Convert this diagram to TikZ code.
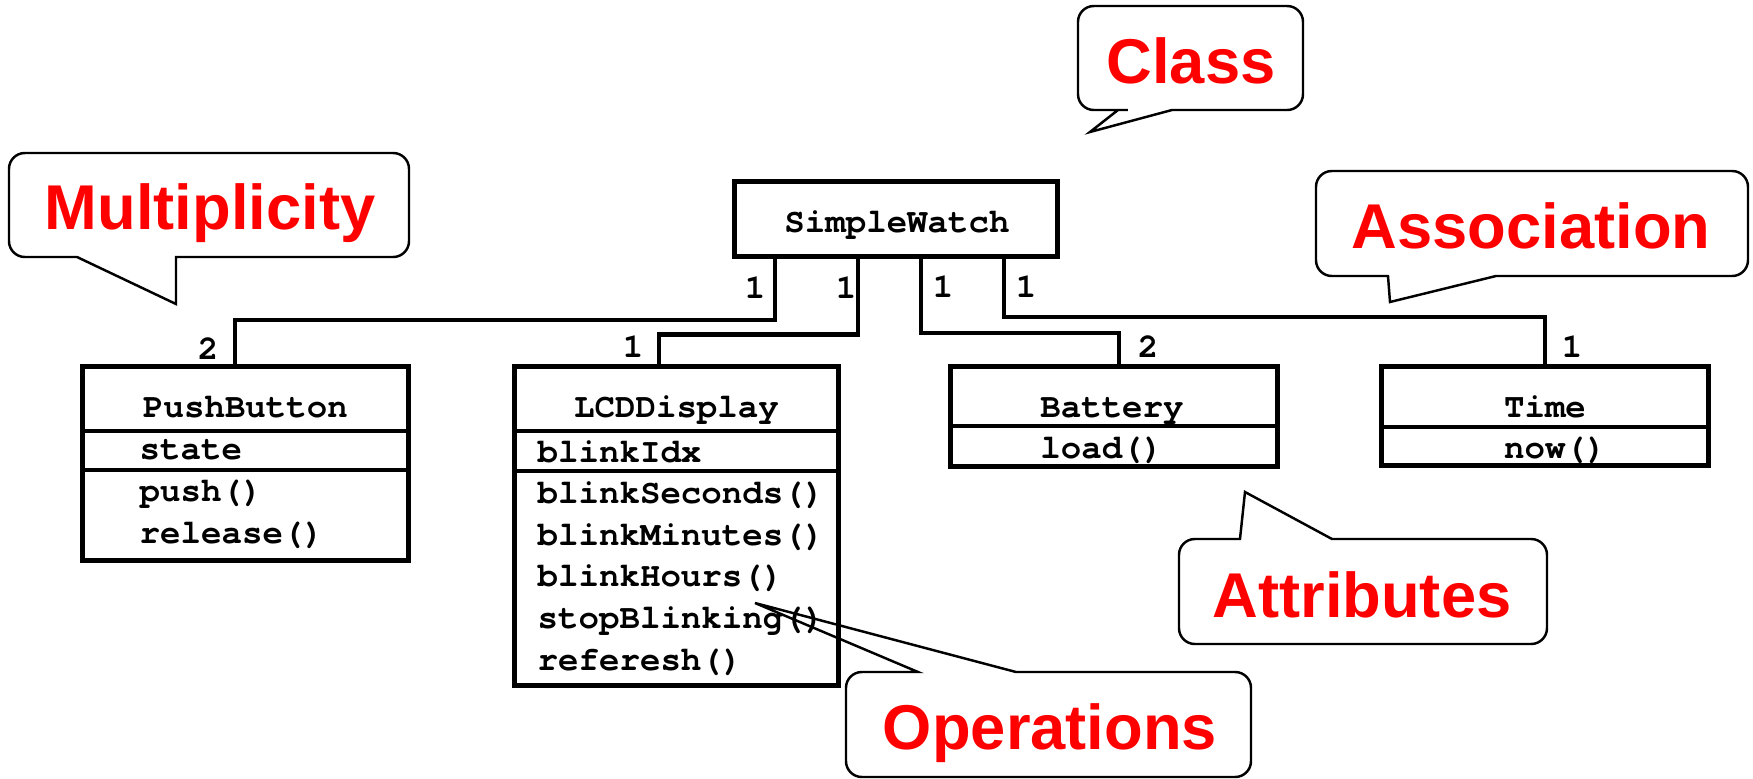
\documentclass[tikz,border=0pt]{standalone}
\usepackage{fontspec}
\setmainfont{Liberation Sans}
\setmonofont{TeX Gyre Cursor}
\usetikzlibrary{calc,positioning}
\tikzstyle{classbox} = [rectangle, draw=black, line width=1.4pt, inner sep=0pt]
\tikzstyle{classline} = [draw=black, line width=1.4pt]
\tikzstyle{classname} = [anchor=base, inner sep=0pt, font=\ttfamily\bfseries\fontsize{9.7pt}{11pt}\selectfont]
\tikzstyle{member} = [anchor=base west, inner sep=0pt, font=\ttfamily\bfseries\fontsize{9.7pt}{11pt}\selectfont]
\tikzstyle{mult} = [anchor=base, inner sep=0pt, font=\ttfamily\bfseries\fontsize{9.7pt}{11pt}\selectfont]
\tikzstyle{assoc} = [draw=black, line width=1.4pt]
\tikzstyle{note} = [anchor=base, inner sep=0pt, text=red, font=\bfseries\fontsize{18pt}{18pt}\selectfont]
\tikzstyle{bubble} = [draw=black, line width=0.7pt]

\begin{document}
\begin{tikzpicture}[x=0.01cm, y=-0.01cm]
\useasboundingbox (0,0) rectangle (1753,778);
%classes
\node[classbox, minimum width=3.23cm, minimum height=0.75cm] (sw) at (896,219) {};
\node[classname] (swname) at (897,232) {SimpleWatch};

%PushButton
\node[classbox, minimum width=3.26cm, minimum height=1.935cm] (pb) at (245.5,463.25) {};
\draw[classline] (pb.west |- 0,431) -- (pb.east |- 0,431);
\draw[classline] (pb.west |- 0,470) -- (pb.east |- 0,470);
\node[classname] (pbname) at (245.5,417) {PushButton};
\node[member] (pbstate) at (139,459) {state};
\node[member] (pbpush) at (139,501) {push()};
\node[member] (pbrelease) at (139,543) {release()};

%LCDDisplay
\node[classbox, minimum width=3.24cm, minimum height=3.19cm] (lcd) at (676.5,526) {};
\draw[classline] (lcd.west |- 0,431) -- (lcd.east |- 0,431);
\draw[classline] (lcd.west |- 0,471) -- (lcd.east |- 0,471);
\node[classname] (lcdname) at (676.5,417) {LCDDisplay};
\node[member] (lcdidx) at (537,462) {blinkIdx};
\node[member] (lcdsec) at (537,503) {blinkSeconds()};
\node[member] (lcdmin) at (537,545) {blinkMinutes()};
\node[member] (lcdhour) at (537,586.5) {blinkHours()};
\node[member] (lcdstop) at (537,628) {stopBlinking()};
\node[member] (lcdref) at (537,670) {referesh()};

%Battery
\node[classbox, minimum width=3.27cm, minimum height=1.00cm] (bat) at (1114,416.5) {};
\draw[classline] (bat.west |- 0,426) -- (bat.east |- 0,426);
\node[classname] (batname) at (1112,417) {Battery};
\node[member] (batload) at ($(batname.base west)+(0,41)$) {load()};

%Time
\node[classbox, minimum width=3.27cm, minimum height=0.99cm] (time) at (1545,416) {};
\draw[classline] (time.west |- 0,427) -- (time.east |- 0,427);
\node[classname] (timename) at (1545,417) {Time};
\node[member] (timenow) at ($(timename.base west)+(0,41)$) {now()};

%associations
\draw[assoc] ($(sw.south)+(-121,0)$) |- ($(pb.north)+(-10.5,-44)$) -- ($(pb.north)+(-10.5,0)$);
\draw[assoc] ($(sw.south)+(-38,0)$) |- ($(lcd.north)+(-17.5,-29)$) -- ($(lcd.north)+(-17.5,0)$);
\draw[assoc] ($(sw.south)+(25,0)$) |- ($(bat.north)+(5,-31)$) -- ($(bat.north)+(5,0)$);
\draw[assoc] ($(sw.south)+(108,0)$) |- ($(time.north)+(0,-47)$) -- ($(time.north)+(0,0)$);

%multiplicities
\node[mult] (m1) at (755,298) {1};
\node[mult] (m2) at (846,298) {1};
\node[mult] (m3) at (943,297) {1};
\node[mult] (m4) at (1026,297) {1};
\node[mult] (mpb) at (208,359) {2};
\node[mult] (mlcd) at (633,357) {1};
\node[mult] (mbat) at (1148,357) {2};
\node[mult] (mtime) at (1572,357) {1};

%callouts
\draw[bubble] (209,153) [rounded corners=4.5pt] -- (9,153) -- (9,257) -- (45,257) [sharp corners] -- (77,257) -- (176,304) -- (176,257) -- (290,257) [rounded corners=4.5pt] -- (409,257) -- (409,153) -- cycle;
\node[note] (multnote) at (210,229) {Multiplicity};

\draw[bubble] (1190,6) [rounded corners=4.5pt] -- (1078,6) -- (1078,110) -- (1112,110) [sharp corners] -- (1118,110) -- (1090,132) -- (1172,110) -- (1240,110) [rounded corners=4.5pt] -- (1303,110) -- (1303,6) -- cycle;
\node[note] (classnote) at (1191,83) {Class};

\draw[bubble] (1532,171) [rounded corners=4.5pt] -- (1316,171) -- (1316,276) -- (1352,276) [sharp corners] -- (1388,276) -- (1390,302) -- (1496,276) -- (1620,276) [rounded corners=4.5pt] -- (1748,276) -- (1748,171) -- cycle;
\node[note] (assocnote) at (1531,248) {Association};

\draw[bubble] (1363,644) [rounded corners=4.5pt] -- (1179,644) -- (1179,539) -- (1215,539) [sharp corners] -- (1240,539) -- (1245,492) -- (1332,539) -- (1440,539) [rounded corners=4.5pt] -- (1547,539) -- (1547,644) -- cycle;
\node[note] (attrnote) at (1362,617) {Attributes};

\draw[bubble] (1048,777) [rounded corners=4.5pt] -- (846,777) -- (846,672) -- (882,672) [sharp corners] -- (918,672) -- (755,603) -- (1016,672) -- (1130,672) [rounded corners=4.5pt] -- (1251,672) -- (1251,777) -- cycle;
\node[note] (opnote) at (1050,749) {Operations};
\end{tikzpicture}
\end{document}
